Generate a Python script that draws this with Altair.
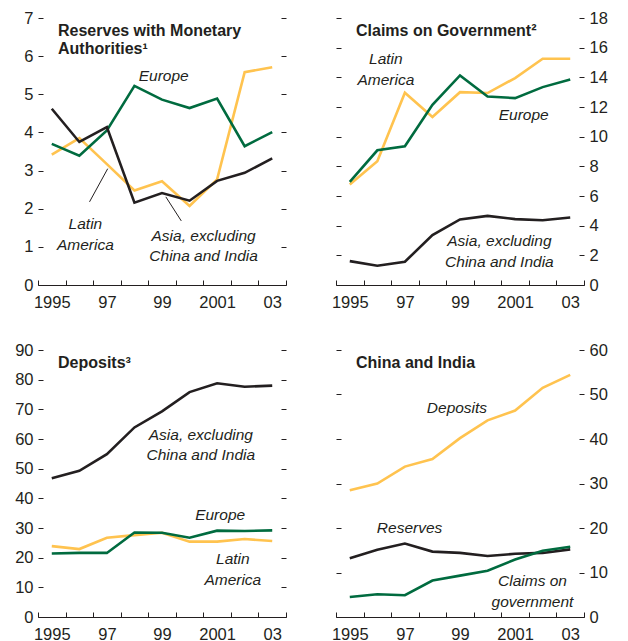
import altair as alt
import pandas as pd

# ---------------- data ----------------
years = [1995, 1996, 1997, 1998, 1999, 2000, 2001, 2002, 2003]
x_label_years = [1995, 1997, 1999, 2001, 2003]
x_tick_labels = ["1995", "97", "99", "2001", "03"]

# Panel 1: Reserves with Monetary Authorities
res_europe = [3.70, 3.39, 4.05, 5.22, 4.86, 4.64, 4.89, 3.64, 4.01]
res_asia = [4.62, 3.75, 4.14, 2.16, 2.41, 2.21, 2.73, 2.94, 3.32]
res_latam = [3.42, 3.85, 3.17, 2.48, 2.72, 2.07, 2.77, 5.58, 5.71]

# Panel 2: Claims on Government
claims_latam = [6.77, 8.34, 12.96, 11.32, 13.00, 12.94, 13.95, 15.25, 15.25]
claims_europe = [6.95, 9.08, 9.35, 12.15, 14.13, 12.71, 12.60, 13.34, 13.86]
claims_asia = [1.61, 1.30, 1.57, 3.36, 4.42, 4.66, 4.44, 4.37, 4.55]

# Panel 3: Deposits
dep_asia = [46.8, 49.3, 54.9, 63.9, 69.3, 75.8, 78.8, 77.6, 78.0]
dep_europe = [21.4, 21.6, 21.6, 28.5, 28.4, 26.7, 29.1, 29.0, 29.2]
dep_latam = [23.9, 22.9, 26.7, 27.6, 28.4, 25.4, 25.4, 26.3, 25.6]

# Panel 4: China and India
ci_deposits = [28.5, 30.0, 33.8, 35.5, 40.2, 44.2, 46.4, 51.5, 54.4]
ci_reserves = [13.2, 15.1, 16.5, 14.7, 14.4, 13.7, 14.2, 14.4, 15.2]
ci_claims = [4.5, 5.1, 4.9, 8.2, 9.3, 10.4, 12.9, 14.9, 15.8]

panel_titles = [
    "Reserves with Monetary\nAuthorities\u00b9",
    "Claims on Government\u00b2",
    "Deposits\u00b3",
    "China and India",
]

# annotations: (label, x-year, y-value of first baseline)
annot_p1 = [("Europe", 1999.06, 5.34), ("Latin\nAmerica", 1996.22, 1.46),
            ("Asia, excluding\nChina and India", 2000.51, 1.16)]
leaders_p1 = [(1996.37, 2.18, 1997.03, 3.05), (1999.14, 2.31, 1999.70, 1.68)]
annot_p2 = [("Latin\nAmerica", 1996.31, 14.91), ("Europe", 2001.31, 11.1),
            ("Asia, excluding\nChina and India", 2000.43, 2.62)]
annot_p3 = [("Asia, excluding\nChina and India", 2000.41, 59.75), ("Europe", 2001.11, 32.7),
            ("Latin\nAmerica", 2001.57, 17.7)]
annot_p4 = [("Deposits", 1998.89, 45.9), ("Reserves", 1997.17, 18.9),
            ("Claims on\ngovernment", 2001.63, 7.0)]

YELLOW = "#FFC34F"
GREEN = "#006B3F"
BLACK = "#231F20"
TEXT = "#231F20"

W, H = 248, 267
FONT = "Liberation Sans, Arial, sans-serif"


def long_df(series):
    rows = []
    for name, vals in series:
        for y, v in zip(years, vals):
            rows.append({"year": y, "value": v, "series": name})
    return pd.DataFrame(rows)


def label_expr():
    expr = "''"
    for y, l in zip(reversed(x_label_years), reversed(x_tick_labels)):
        expr = f"datum.value == {y} ? '{l}' : ({expr})"
    return expr


def panel(series, colors, ymax, ystep, labels_right, title, annots, leaders=None):
    df = long_df(series)
    xs = alt.Scale(domain=[1994.5, 2003.5], nice=False, zero=False)
    ys = alt.Scale(domain=[0, ymax], nice=False, zero=True)
    yvals = list(range(0, ymax + 1, ystep))
    xticks = [1994.5 + i for i in range(10)]

    lines = alt.Chart(df).mark_line(strokeWidth=2.6, strokeJoin="miter").encode(
        x=alt.X("year:Q", scale=xs, axis=alt.Axis(
            orient="top", offset=-H, values=xticks, labels=False, domain=True,
            ticks=True, tickSize=5, title=None, grid=False,
            domainColor=BLACK, tickColor=BLACK, domainWidth=1, tickWidth=1)),
        y=alt.Y("value:Q", scale=ys, axis=alt.Axis(
            orient="right" if labels_right else "left", values=yvals,
            ticks=False, domain=False, labelPadding=5, title=None, grid=False,
            labelFont=FONT, labelFontSize=16.5, labelColor=TEXT)),
        color=alt.Color("series:N", scale=alt.Scale(domain=[s[0] for s in series], range=colors),
                        legend=None),
    )

    adf = pd.DataFrame([{"tx": a[1], "ty": a[2], "label": a[0]} for a in annots])
    texts = alt.Chart(adf).mark_text(
        font=FONT, fontSize=15.5, fontStyle="italic", align="center",
        baseline="alphabetic", lineBreak="\n", lineHeight=20.7, color=TEXT,
    ).encode(
        x=alt.X("tx:Q", scale=xs, axis=alt.Axis(
            orient="bottom", values=x_label_years, labelExpr=label_expr(),
            ticks=False, domain=False, labelPadding=9, title=None, grid=False,
            labelFont=FONT, labelFontSize=16.5, labelColor=TEXT, labelFlush=False,
            labelOverlap=False)),
        y=alt.Y("ty:Q", scale=ys, axis=alt.Axis(
            orient="right", offset=-W, values=yvals, labels=False, domain=False,
            ticks=True, tickSize=5, tickColor=BLACK, title=None, grid=False)),
        text="label:N",
    )

    ghost = alt.Chart(df).mark_point(opacity=0, size=1).encode(
        x=alt.X("year:Q", scale=xs, axis=None),
        y=alt.Y("value:Q", scale=ys, axis=alt.Axis(
            orient="left", offset=-W, values=yvals, labels=False, domain=False,
            ticks=True, tickSize=5, tickColor=BLACK, title=None, grid=False)),
    )

    tdf = pd.DataFrame([{"t": title}])
    ttl = alt.Chart(tdf).mark_text(
        font=FONT, fontSize=16, fontWeight="bold", align="left",
        baseline="alphabetic", lineBreak="\n", lineHeight=18, color=TEXT,
    ).encode(x=alt.value(20), y=alt.value(18), text="t:N")

    layers = [lines, texts, ghost, ttl]
    if leaders:
        ldf = pd.DataFrame([{"x1": l[0], "y1": l[1], "x2": l[2], "y2": l[3]} for l in leaders])
        lead = alt.Chart(ldf).mark_rule(strokeWidth=1, color=BLACK).encode(
            x=alt.X("x1:Q", scale=xs, axis=None),
            y=alt.Y("y1:Q", scale=ys, axis=None),
            x2="x2:Q", y2="y2:Q",
        )
        layers.insert(1, lead)

    return alt.layer(*layers).resolve_scale(x="shared", y="shared").resolve_axis(
        x="independent", y="independent").properties(width=W, height=H)


p1 = panel([("Latin America", res_latam), ("Europe", res_europe), ("Asia", res_asia)],
           [YELLOW, GREEN, BLACK], 7, 1, False, panel_titles[0], annot_p1, leaders_p1)
p2 = panel([("Latin America", claims_latam), ("Europe", claims_europe), ("Asia", claims_asia)],
           [YELLOW, GREEN, BLACK], 18, 2, True, panel_titles[1], annot_p2)
p3 = panel([("Latin America", dep_latam), ("Europe", dep_europe), ("Asia", dep_asia)],
           [YELLOW, GREEN, BLACK], 90, 10, False, panel_titles[2], annot_p3)
p4 = panel([("Deposits", ci_deposits), ("Reserves", ci_reserves), ("Claims", ci_claims)],
           [YELLOW, BLACK, GREEN], 60, 10, True, panel_titles[3], annot_p4)

chart = alt.concat(p1, p2, p3, p4, columns=2, spacing={"row": 31, "column": 44}).resolve_scale(
    color="independent"
).properties(
    padding={"left": 6, "top": 2, "right": 0, "bottom": 0},
    background="white",
).configure_view(stroke=None)

chart.save("out.html", embed_options={"renderer": "svg", "actions": False})
